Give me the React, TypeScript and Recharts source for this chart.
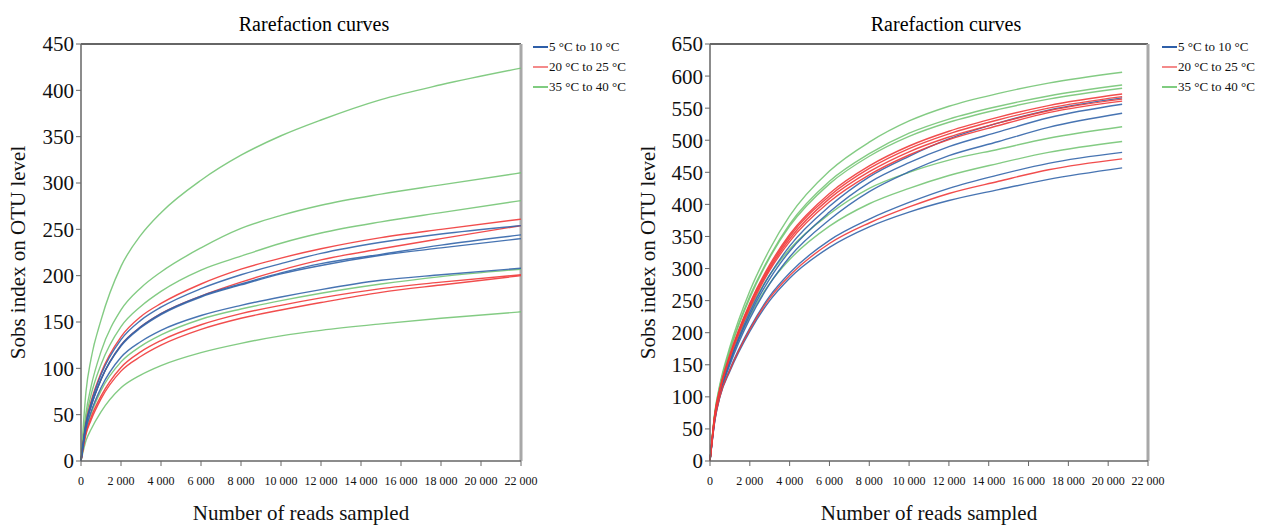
import React from "react";
import { LineChart, Line, XAxis, YAxis, ReferenceLine } from "recharts";

// ---- data ----
const X_TICKS = [0, 2000, 4000, 6000, 8000, 10000, 12000, 14000, 16000, 18000, 20000, 22000];
const LEFT_Y_TICKS = [0, 50, 100, 150, 200, 250, 300, 350, 400, 450];
const RIGHT_Y_TICKS = [0, 50, 100, 150, 200, 250, 300, 350, 400, 450, 500, 550, 600, 650];
const LEGEND_LABELS = ["5 °C to 10 °C", "20 °C to 25 °C", "35 °C to 40 °C"];

// left panel
const readsLeft = [0, 250, 500, 1000, 2000, 3000, 4000, 6000, 8000, 10000, 12000, 15000, 18000, 22000];
const leftG1 = [0, 75, 110, 152, 210, 244, 268, 303, 330, 351, 368, 390, 406, 424];
const leftG2 = [0, 52, 80, 118, 163, 187, 204, 230, 251, 265, 276, 288, 298, 311];
const leftG3 = [0, 46, 71, 104, 145, 167, 183, 206, 221, 235, 246, 258, 268, 281];
const leftR1 = [0, 42, 64, 95, 134, 156, 170, 191, 207, 219, 229, 241, 250, 261];
const leftB1 = [0, 41, 62, 93, 131, 152, 166, 186, 201, 213, 224, 236, 245, 254];
const leftR2 = [0, 39, 59, 88, 125, 145, 159, 178, 193, 206, 217, 229, 240, 254];
const leftB2 = [0, 39, 59, 88, 125, 145, 159, 178, 191, 203, 213, 223, 233, 244];
const leftB3 = [0, 39, 59, 88, 124, 144, 158, 177, 190, 202, 211, 222, 230, 240];
const leftB4 = [0, 35, 53, 79, 112, 129, 141, 157, 168, 177, 185, 195, 201, 208];
const leftG4 = [0, 34, 51, 76, 107, 124, 136, 153, 164, 173, 181, 191, 199, 207];
const leftR3 = [0, 31, 47, 70, 101, 118, 130, 147, 159, 168, 176, 186, 193, 201];
const leftR4 = [0, 29, 44, 67, 97, 113, 125, 142, 154, 163, 171, 182, 190, 200];
const leftG5 = [0, 22, 34, 53, 79, 93, 103, 117, 127, 135, 141, 148, 154, 161];

// right panel
const readsRight = [0, 250, 500, 1000, 2000, 3000, 4000, 6000, 8000, 10000, 12000, 14500, 17000, 20700];
const rightG1 = [0, 78, 120, 178, 265, 330, 382, 452, 497, 530, 553, 573, 589, 606];
const rightG2 = [0, 76, 117, 173, 257, 319, 369, 436, 479, 511, 533, 553, 569, 586];
const rightG3 = [0, 76, 116, 172, 254, 317, 366, 432, 475, 506, 528, 548, 564, 581];
const rightR1 = [0, 74, 113, 166, 246, 306, 353, 417, 460, 491, 514, 536, 554, 572];
const rightR2 = [0, 74, 112, 165, 244, 303, 350, 413, 456, 487, 510, 532, 550, 568];
const rightR3 = [0, 73, 111, 163, 241, 300, 346, 409, 451, 482, 505, 527, 546, 564];
const rightR4 = [0, 72, 110, 161, 238, 297, 342, 404, 446, 477, 501, 523, 543, 561];
const rightB1 = [0, 70, 107, 156, 232, 290, 335, 397, 443, 475, 502, 527, 547, 566];
const rightB2 = [0, 69, 106, 154, 228, 284, 327, 388, 434, 465, 490, 513, 535, 556];
const rightG4 = [0, 72, 110, 160, 236, 290, 330, 385, 425, 450, 469, 486, 503, 521];
const rightB3 = [0, 67, 104, 150, 222, 276, 318, 376, 420, 451, 476, 498, 520, 542];
const rightG5 = [0, 70, 107, 155, 226, 277, 314, 366, 401, 425, 445, 464, 481, 498];
const rightB4 = [0, 66, 102, 143, 207, 257, 293, 344, 377, 403, 425, 446, 464, 481];
const rightR5 = [0, 65, 101, 142, 205, 254, 289, 339, 371, 396, 417, 436, 454, 471];
const rightB5 = [0, 64, 100, 140, 202, 250, 285, 333, 365, 388, 406, 423, 439, 457];

type Group = "blue" | "red" | "green";

const LINE_COLORS: Record<Group, string> = { blue: "#3365aa", red: "#f03a3a", green: "#76c576" };
const LEGEND_COLORS: Record<Group, string> = { blue: "#2f5fa8", red: "#f48a8a", green: "#80cc80" };
const GROUPS: Group[] = ["blue", "red", "green"];

const leftSeries: [string, Group, number[]][] = [
  ["g1", "green", leftG1], ["g2", "green", leftG2], ["g3", "green", leftG3],
  ["g4", "green", leftG4], ["g5", "green", leftG5],
  ["r1", "red", leftR1], ["r2", "red", leftR2], ["r3", "red", leftR3], ["r4", "red", leftR4],
  ["b1", "blue", leftB1], ["b2", "blue", leftB2], ["b3", "blue", leftB3], ["b4", "blue", leftB4],
];

const rightSeries: [string, Group, number[]][] = [
  ["g1", "green", rightG1], ["g2", "green", rightG2], ["g3", "green", rightG3],
  ["g4", "green", rightG4], ["g5", "green", rightG5],
  ["b1", "blue", rightB1], ["b2", "blue", rightB2], ["b3", "blue", rightB3],
  ["b4", "blue", rightB4], ["b5", "blue", rightB5],
  ["r1", "red", rightR1], ["r2", "red", rightR2], ["r3", "red", rightR3],
  ["r4", "red", rightR4], ["r5", "red", rightR5],
];

const FONT = "'Liberation Serif', 'Times New Roman', serif";

function buildRows(reads: number[], series: [string, Group, number[]][]) {
  return reads.map((x, i) => {
    const row: Record<string, number> = { x };
    series.forEach(([key, , values]) => {
      row[key] = values[i];
    });
    return row;
  });
}

const fmtReads = (v: number) => String(v).replace(/\B(?=(\d{3})+(?!\d))/g, " ");

function LegendBox({ left, top }: { left: number; top: number }) {
  return (
    <div style={{ position: "absolute", left, top, fontFamily: FONT, fontSize: 13, color: "#111" }}>
      {GROUPS.map((g, i) => (
        <div key={g} style={{ display: "flex", alignItems: "center", height: 20, whiteSpace: "nowrap" }}>
          <span
            style={{
              display: "inline-block",
              width: 15,
              height: 2,
              background: LEGEND_COLORS[g],
              marginRight: 1,
            }}
          />
          <span>{LEGEND_LABELS[i]}</span>
        </div>
      ))}
    </div>
  );
}

interface PanelProps {
  reads: number[];
  series: [string, Group, number[]][];
  yTicks: number[];
  left: number;
  width: number;
  marginLeft: number;
  marginRight: number;
}

function Panel({ reads, series, yTicks, left, width, marginLeft, marginRight }: PanelProps) {
  const data = buildRows(reads, series);
  const yMax = yTicks[yTicks.length - 1];
  return (
    <div style={{ position: "absolute", left, top: 0, width, height: 525 }}>
      <LineChart
        width={width}
        height={525}
        data={data}
        margin={{ top: 44, right: marginRight, bottom: 39, left: marginLeft }}
      >
        <XAxis
          dataKey="x"
          type="number"
          domain={[0, 22000]}
          ticks={X_TICKS}
          tickFormatter={fmtReads}
          interval={0}
          height={25}
          tickSize={5}
          tickMargin={10}
          axisLine={{ stroke: "#666", strokeWidth: 1.5 }}
          tickLine={{ stroke: "#666" }}
          tick={{ fontSize: 12, fill: "#111", fontFamily: FONT }}
          label={{
            value: "Number of reads sampled",
            position: "bottom",
            offset: 19,
            style: { fontSize: 21, fill: "#111", fontFamily: FONT },
          }}
        />
        <YAxis
          type="number"
          domain={[0, yMax]}
          ticks={yTicks}
          interval={0}
          width={60}
          tickSize={5}
          tickMargin={2}
          axisLine={{ stroke: "#666", strokeWidth: 1.5 }}
          tickLine={{ stroke: "#666" }}
          tick={{ fontSize: 21, fill: "#111", fontFamily: FONT }}
          label={{
            value: "Sobs index on OTU level",
            content: (props: any) => {
              const vb = props.viewBox || {};
              const cx = 18;
              const cy = vb.y + vb.height / 2;
              return (
                <text
                  x={cx}
                  y={cy}
                  transform={`rotate(-90, ${cx}, ${cy})`}
                  textAnchor="middle"
                  dominantBaseline="central"
                  style={{ fontSize: 21, fill: "#111", fontFamily: FONT }}
                >
                  Sobs index on OTU level
                </text>
              );
            },
          }}
        />
        <ReferenceLine y={yMax} stroke="#333" strokeWidth={1.5} />
        <ReferenceLine x={22000} stroke="#a8a8a8" strokeWidth={3} />
        {series.map(([key, group]) => (
          <Line
            key={key}
            dataKey={key}
            type="monotone"
            stroke={LINE_COLORS[group]}
            strokeWidth={1.4}
            strokeOpacity={0.9}
            dot={false}
            activeDot={false}
            isAnimationActive={false}
          />
        ))}
      </LineChart>
    </div>
  );
}

export default function App() {
  return (
    <div
      style={{
        position: "absolute",
        left: 0,
        top: 0,
        width: 1262,
        height: 525,
        background: "#fff",
        fontFamily: FONT,
      }}
    >
      <div style={{ position: "absolute", left: 214, top: 13, width: 200, textAlign: "center", fontSize: 20 }}>
        Rarefaction curves
      </div>
      <div style={{ position: "absolute", left: 846, top: 13, width: 200, textAlign: "center", fontSize: 20 }}>
        Rarefaction curves
      </div>
      <Panel
        reads={readsLeft}
        series={leftSeries}
        yTicks={LEFT_Y_TICKS}
        left={0}
        width={640}
        marginLeft={21}
        marginRight={119}
      />
      <Panel
        reads={readsRight}
        series={rightSeries}
        yTicks={RIGHT_Y_TICKS}
        left={630}
        width={632}
        marginLeft={20}
        marginRight={114}
      />
      <LegendBox left={533} top={37} />
      <LegendBox left={1162} top={37} />
    </div>
  );
}
